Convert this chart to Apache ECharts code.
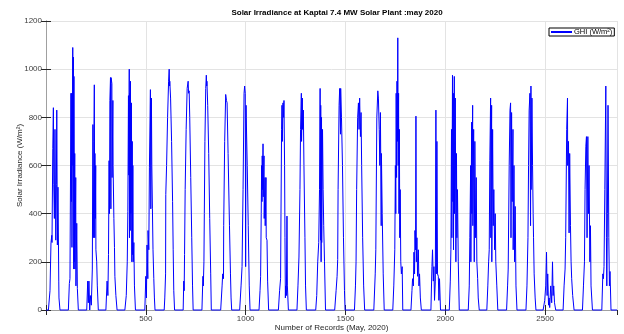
<!DOCTYPE html>
<html>
<head>
<meta charset="utf-8">
<script src="https://cdn.jsdelivr.net/npm/echarts@6/dist/echarts.min.js"></script>
<style>
  html, body { margin: 0; padding: 0; background: #fff; }
  #main { width: 624px; height: 334px; }
</style>
</head>
<body>
<div id="main"></div>
<script>
// record number at the middle of each daily hump
const dayCenter = [37, 137, 237, 328, 420, 523, 617, 712, 803, 902,
  995, 1090, 1187, 1282, 1378, 1473, 1573, 1667, 1762, 1853,
  1953, 2048, 2145, 2240, 2337, 2432, 2520, 2615, 2712, 2807];

// each day: [records from the hump centre, GHI W/m2]
const may01 = [[-25,0],[-17,80],[-12,280],[-8,310],[-7,280],[-3,670],[0,840],[2,520],[5,380],[8,750],[12,290],[15,520],[17,830],[20,270],[23,510],[27,120],[28,50],[33,0]];
const may02 = [[-25,0],[-20,110],[-17,130],[-12,900],[-10,450],[-8,900],[-7,260],[-3,1090],[-2,600],[0,1050],[2,170],[3,970],[5,200],[7,650],[8,170],[12,550],[13,100],[17,360],[20,90],[25,0]];
const may03 = [[-33,0],[-28,120],[-25,30],[-22,120],[-18,0],[-15,60],[-10,20],[-5,170],[-2,770],[0,300],[3,700],[5,935],[7,300],[8,650],[10,380],[12,600],[13,250],[17,200],[20,100],[25,0]];
const may04 = [[-28,0],[-22,120],[-18,60],[-15,230],[-12,620],[-10,400],[-8,870],[-5,965],[-3,420],[-2,965],[2,940],[3,550],[7,870],[8,600],[12,380],[15,260],[17,140],[22,60],[28,0]];
const may05 = [[-25,0],[-18,60],[-13,200],[-10,410],[-7,890],[-5,560],[-3,1000],[-2,300],[0,900],[2,330],[3,950],[5,400],[8,860],[10,200],[12,700],[13,230],[15,600],[17,200],[20,280],[23,100],[28,0]];
const may06 = [[-28,0],[-23,140],[-20,50],[-17,270],[-13,130],[-12,330],[-8,250],[-5,590],[0,915],[2,420],[5,880],[7,600],[10,420],[13,250],[17,130],[20,50],[23,0]];
const may07 = [[-25,0],[-22,50],[-18,150],[-17,480],[-13,600],[-8,800],[-3,950],[0,1000],[2,930],[3,950],[7,880],[12,700],[17,450],[20,250],[23,80],[27,0]];
const may08 = [[-25,0],[-22,120],[-20,80],[-18,230],[-15,500],[-10,750],[-5,920],[0,950],[2,900],[5,910],[8,800],[13,550],[18,300],[22,100],[25,0]];
const may09 = [[-22,0],[-17,140],[-15,100],[-12,200],[-10,400],[-7,700],[-3,920],[0,975],[2,930],[3,950],[7,850],[12,650],[17,380],[22,150],[25,0]];
const may10 = [[-27,0],[-20,100],[-17,150],[-13,130],[-12,350],[-7,700],[-2,895],[2,870],[5,860],[10,650],[17,350],[22,150],[25,50],[28,0]];
const may11 = [[-25,0],[-18,100],[-13,180],[-8,500],[-3,900],[0,930],[3,900],[5,180],[7,850],[8,800],[13,600],[18,350],[23,100],[27,0]];
const may12 = [[-23,0],[-18,80],[-15,140],[-12,400],[-10,600],[-8,450],[-7,640],[-5,500],[-3,690],[-2,470],[2,640],[3,380],[7,550],[8,350],[12,550],[13,300],[17,290],[20,120],[25,0]];
const may13 = [[-23,0],[-17,80],[-12,130],[-10,400],[-7,750],[-5,850],[-3,700],[0,860],[3,800],[5,870],[8,600],[10,300],[12,50],[13,100],[17,60],[20,390],[22,100],[27,0]];
const may14 = [[-25,0],[-20,100],[-15,220],[-10,500],[-7,750],[-3,900],[-2,700],[2,880],[3,750],[7,830],[10,600],[15,300],[18,100],[22,0]];
const may15 = [[-27,0],[-22,60],[-17,200],[-12,280],[-8,500],[-5,920],[-3,290],[-2,850],[0,200],[2,800],[3,280],[7,750],[10,500],[13,350],[17,200],[22,0]];
const may16 = [[-27,0],[-20,80],[-15,140],[-12,210],[-10,500],[-5,850],[-2,920],[2,730],[3,920],[7,800],[12,600],[17,300],[22,80],[25,0]];
const may17 = [[-28,0],[-23,100],[-20,200],[-17,500],[-12,800],[-8,860],[-5,750],[-2,880],[2,720],[5,820],[8,600],[13,300],[18,100],[23,0]];
const may18 = [[-25,0],[-18,150],[-15,250],[-10,800],[-5,910],[-2,880],[2,750],[5,600],[8,820],[12,350],[13,650],[17,400],[22,150],[27,0]];
const may19 = [[-25,0],[-20,100],[-15,250],[-12,600],[-10,400],[-8,900],[-6,550],[-4,950],[-2,700],[0,1130],[2,600],[4,900],[6,400],[8,750],[10,300],[12,500],[15,200],[18,150],[22,180],[25,0]];
const may20 = [[-25,0],[-20,80],[-17,130],[-13,100],[-10,240],[-7,150],[-5,330],[-2,250],[0,805],[2,200],[5,300],[8,140],[12,250],[15,100],[18,150],[22,50],[27,0]];
const may21 = [[-25,0],[-20,180],[-17,250],[-13,120],[-10,180],[-7,40],[-3,120],[0,830],[2,150],[5,700],[8,150],[12,140],[15,40],[18,130],[23,0]];
const may22 = [[-28,0],[-23,120],[-20,250],[-17,750],[-15,300],[-12,975],[-10,450],[-8,900],[-7,250],[-3,970],[-2,400],[2,880],[5,200],[8,650],[10,300],[13,500],[17,200],[22,0]];
const may23 = [[-30,0],[-25,100],[-22,300],[-18,600],[-17,200],[-13,780],[-12,400],[-8,850],[-7,350],[-3,750],[0,200],[3,700],[7,300],[10,550],[13,200],[17,130],[20,50],[25,0]];
const may24 = [[-32,0],[-27,100],[-23,200],[-20,250],[-17,620],[-13,880],[-12,300],[-8,850],[-7,200],[-3,750],[0,350],[3,500],[7,250],[10,400],[13,200],[18,100],[23,0]];
const may25 = [[-30,0],[-25,100],[-22,170],[-17,600],[-13,830],[-10,860],[-8,300],[-5,820],[-2,450],[2,750],[3,250],[7,600],[10,200],[13,430],[17,100],[22,0]];
const may26 = [[-28,0],[-23,100],[-18,300],[-15,600],[-12,830],[-8,900],[-5,350],[-3,930],[-2,500],[2,880],[5,600],[8,400],[10,300],[13,150],[18,50],[22,0]];
const may27 = [[-30,0],[-22,40],[-17,100],[-13,240],[-10,60],[-7,150],[-3,20],[0,50],[3,10],[8,100],[13,30],[17,200],[20,60],[23,100],[27,30],[33,0]];
const may28 = [[-25,0],[-20,100],[-15,170],[-12,300],[-7,750],[-3,880],[-2,600],[2,700],[5,320],[8,650],[12,350],[15,200],[18,130],[23,60],[30,0]];
const may29 = [[-25,0],[-20,100],[-15,200],[-12,500],[-8,680],[-5,720],[-2,300],[2,720],[5,400],[8,600],[12,200],[15,350],[18,100],[25,0]];
const may30 = [[-23,0],[-18,150],[-15,130],[-12,180],[-8,500],[-3,930],[0,300],[2,100],[5,400],[8,850],[12,300],[15,100],[18,160],[23,0]];

const firstRecord = 1;
const lastRecord = 2860;
const xTicks = [500, 1000, 1500, 2000, 2500];

const dayProfiles = [may01, may02, may03, may04, may05, may06, may07, may08, may09, may10,
  may11, may12, may13, may14, may15, may16, may17, may18, may19, may20,
  may21, may22, may23, may24, may25, may26, may27, may28, may29, may30];

let ghi = [[firstRecord, 0]];
dayProfiles.forEach((day, i) => {
  day.forEach((p) => {
    ghi.push([dayCenter[i] + p[0], p[1]]);
  });
});
ghi.push([lastRecord, 0]);

const font = "'Liberation Sans', Arial, sans-serif";
const tickColor = "#262626";
const edgeColor = "#a0a0a0";

let chart = echarts.init(document.getElementById("main"));
chart.setOption({
  animation: false,
  backgroundColor: "#fff",
  title: {
    text: "Solar Irradiance at Kaptai 7.4 MW Solar Plant :may 2020",
    left: 332,
    top: 4,
    textAlign: "center",
    textStyle: { fontFamily: font, fontSize: 8, fontWeight: "bold", color: "#000" },
  },
  legend: {
    data: ["GHI (W/m²)"],
    left: 549,
    top: 28,
    orient: "vertical",
    padding: [0, 2, 0, 2],
    itemWidth: 21,
    itemHeight: 2,
    itemGap: 0,
    icon: "rect",
    borderColor: "#000",
    borderWidth: 1,
    backgroundColor: "#fff",
    textStyle: { fontFamily: font, fontSize: 7.5, color: "#000", padding: [0, 0, 0, -3] },
  },
  grid: { left: 46, right: 7, top: 21, bottom: 24, show: false, outerBoundsMode: "none", containLabel: false },
  xAxis: [
    {
      type: "value",
      min: 0,
      max: lastRecord,
      interval: 500,
      name: "Number of Records (May, 2020)",
      nameLocation: "middle",
      nameGap: 14,
      nameMoveOverlap: false,
      nameTextStyle: { fontFamily: font, fontSize: 8, color: "#262626" },
      axisLine: { show: true, lineStyle: { color: edgeColor, width: 1 } },
      axisTick: { show: true, inside: true, length: 5, lineStyle: { color: tickColor } },
      axisLabel: {
        fontFamily: font, fontSize: 8, color: "#404040", margin: 5,
        showMaxLabel: false,
        formatter: (v) => (xTicks.includes(v) ? String(v) : ""),
      },
      splitLine: { show: true, lineStyle: { color: "#e3e3e3", width: 1 } },
    },
    {
      type: "value",
      position: "top",
      min: 0,
      max: lastRecord,
      interval: 500,
      axisLine: { show: true, lineStyle: { color: edgeColor, width: 1 } },
      axisTick: { show: true, inside: true, length: 5, lineStyle: { color: tickColor } },
      axisLabel: { show: false },
      splitLine: { show: false },
    },
  ],
  yAxis: [
    {
      type: "value",
      min: 0,
      max: 1200,
      interval: 200,
      name: "Solar Irradiance (W/m²)",
      nameLocation: "middle",
      nameGap: 22,
      nameMoveOverlap: false,
      nameTextStyle: { fontFamily: font, fontSize: 8, color: "#262626" },
      axisLine: { show: true, lineStyle: { color: edgeColor, width: 1 } },
      axisTick: { show: true, inside: true, length: 5, lineStyle: { color: tickColor } },
      axisLabel: { fontFamily: font, fontSize: 8, color: "#404040", margin: 4, formatter: (v) => String(v) },
      splitLine: { show: true, lineStyle: { color: "#e3e3e3", width: 1 } },
    },
    {
      type: "value",
      position: "right",
      min: 0,
      max: 1200,
      interval: 200,
      axisLine: { show: true, lineStyle: { color: edgeColor, width: 1 } },
      axisTick: { show: true, inside: true, length: 5, lineStyle: { color: tickColor } },
      axisLabel: { show: false },
      splitLine: { show: false },
    },
  ],
  series: [
    {
      name: "GHI (W/m²)",
      type: "line",
      data: ghi,
      symbol: "none",
      clip: false,
      color: "#0000ff",
      lineStyle: { color: "#0000ff", width: 1 },
    },
  ],
});
</script>
</body>
</html>
